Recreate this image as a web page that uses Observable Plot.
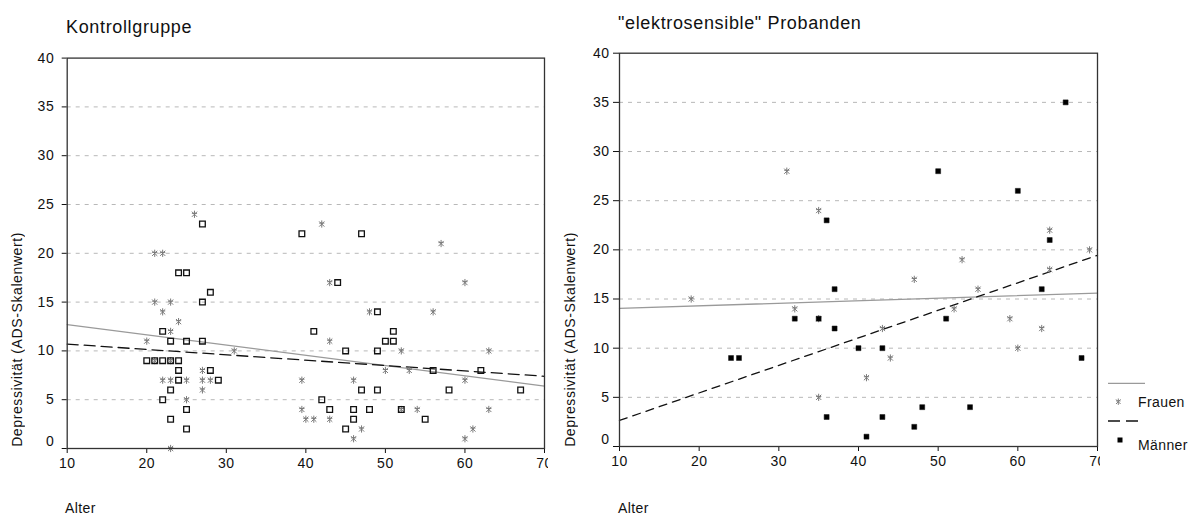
<!DOCTYPE html>
<html><head><meta charset="utf-8">
<script src="https://cdn.jsdelivr.net/npm/d3@7"></script>
<script src="https://cdn.jsdelivr.net/npm/@observablehq/plot@0.6"></script>
<style>
body{margin:0;background:#fff;}
#wrap{position:relative;width:1195px;height:516px;overflow:hidden;font-family:"Liberation Sans",Arial,sans-serif;color:#111;background:#fff;}
.abs{position:absolute;white-space:nowrap;}
.title{font-size:18px;letter-spacing:0.65px;line-height:18px;}
.lab{font-size:14px;letter-spacing:0.4px;line-height:14px;}
.ylab{font-size:14px;letter-spacing:0.6px;line-height:14px;writing-mode:vertical-rl;transform:rotate(180deg);width:14px;}
</style></head><body><div id="wrap"></div>
<script>
// ---- data ----
const xTicks = [10, 20, 30, 40, 50, 60, 70];
const yTicks = [0, 5, 10, 15, 20, 25, 30, 35, 40];
const gridValues = [5, 10, 15, 20, 25, 30, 35];

const titles = ["Kontrollgruppe", "\"elektrosensible\" Probanden"];
const xLabel = "Alter";
const yLabel = "Depressivität (ADS-Skalenwert)";
const legendLabels = ["Frauen", "Männer"];

// [Alter, ADS-Skalenwert]
const kontrollFrauen = [[26,24],[21,20],[22,20],[21,15],[23,15],[22,14],[24,13],[23,12],[20,11],[31,10],[21,9],[23,9],[27,8],[22,7],[23,7],[25,7],[27,7],[28,7],[27,6],[25,5],[23,0],[39.5,7],[39.5,4],[40,3],[41,3],[42,23],[57,21],[43,17],[60,17],[48,14],[56,14],[43,11],[52,10],[63,10],[50,8],[53,8],[46,7],[60,7],[43,3],[54,4],[63,4],[52,4],[47,2],[61,2],[46,1],[60,1]];
const kontrollMaenner = [[27,23],[39.5,22],[24,18],[25,18],[28,16],[27,15],[22,12],[23,11],[25,11],[27,11],[20,9],[21,9],[22,9],[23,9],[24,9],[24,8],[28,8],[24,7],[29,7],[23,6],[22,5],[25,4],[23,3],[25,2],[41,12],[42,5],[43,4],[47,22],[44,17],[49,14],[51,12],[50,11],[51,11],[45,10],[49,10],[56,8],[62,8],[47,6],[49,6],[58,6],[67,6],[46,4],[48,4],[52,4],[46,3],[55,3],[45,2]];
const elektroFrauen = [[19,15],[31,28],[35,24],[64,22],[69,20],[53,19],[64,18],[47,17],[55,16],[32,14],[35,13],[52,14],[59,13],[63,12],[43,12],[60,10],[44,9],[41,7],[35,5]];
const elektroMaenner = [[66,35],[50,28],[60,26],[36,23],[64,21],[37,16],[63,16],[32,13],[35,13],[51,13],[37,12],[40,10],[43,10],[24,9],[25,9],[68,9],[48,4],[54,4],[36,3],[43,3],[47,2],[41,1]];

// fitted lines (read at Alter 10 and 70)
const fitAlter = [10, 70];
const kontrollFitFrauen = [12.7, 6.4];
const kontrollFitMaenner = [10.7, 7.4];
const elektroFitFrauen = [14.05, 15.6];
const elektroFitMaenner = [2.65, 19.45];

// ---- drawing ----
const FONT = "'Liberation Sans', Arial, sans-serif";
const wrap = document.getElementById("wrap");

// star marker: vertical bar, X and short horizontal bars
const starSymbol = {
  draw(ctx, size) {
    const r = Math.sqrt(size / Math.PI);
    const h = r * 0.72;
    ctx.moveTo(0, -r); ctx.lineTo(0, r);
    ctx.moveTo(-h, -h); ctx.lineTo(h, h);
    ctx.moveTo(-h, h); ctx.lineTo(h, -h);
    ctx.moveTo(-h, -h * 0.35); ctx.lineTo(h, -h * 0.35);
  }
};

function panel(o) {
  const fitF = fitAlter.map((a, i) => ({a, v: o.fitF[i]}));
  const fitM = fitAlter.map((a, i) => ({a, v: o.fitM[i]}));
  const svg = Plot.plot({
    width: 548, height: 480,
    marginLeft: o.ml, marginRight: o.mr, marginTop: o.mt, marginBottom: o.mb,
    x: {domain: [10, 70], axis: null},
    y: {domain: [0, 40], axis: null},
    style: {fontFamily: FONT, fontSize: "14px", letterSpacing: "0.5px", color: "#111", background: "white", overflow: "hidden"},
    marks: [
      Plot.gridY(gridValues, {stroke: "#b8b8b8", strokeOpacity: 1, strokeDasharray: "4,5"}),
      Plot.axisX(xTicks, {tickSize: 5, tickPadding: 5, label: null}),
      Plot.axisY(yTicks, {tickSize: o.ts, tickPadding: o.tp, label: null, tickFormat: d => d === 0 ? "" : d}),
      Plot.axisY([0], {tickSize: o.ts, tickPadding: o.tp, label: null, dy: -7, stroke: "none"}),
      Plot.line(fitF, {x: "a", y: "v", stroke: "#9a9a9a", strokeWidth: 1.3}),
      Plot.line(fitM, {x: "a", y: "v", stroke: "#111", strokeWidth: 1.3, strokeDasharray: o.dash}),
      Plot.dot(o.frauen, {x: d => d[0], y: d => d[1], symbol: starSymbol, r: 3.6, stroke: "#7a7a7a", fill: "none", strokeWidth: 1}),
      Plot.dot(o.maenner, {x: d => d[0], y: d => d[1], symbol: "square", r: o.sr, stroke: "#111", fill: o.fill, strokeWidth: o.fill === "none" ? 1.3 : 0.5}),
      Plot.frame({stroke: "#333", strokeWidth: 1.3})
    ]
  });
  svg.style.position = "absolute";
  svg.style.left = o.left + "px";
  svg.style.top = "0px";
  wrap.appendChild(svg);
}

panel({left: 0, ml: 66.7, mr: 4, mt: 57.6, mb: 32, ts: 5, tp: 8,
  frauen: kontrollFrauen, maenner: kontrollMaenner, fill: "none", sr: 3.2,
  fitF: kontrollFitFrauen, fitM: kontrollFitMaenner, dash: "11,6"});
panel({left: 552, ml: 67, mr: 3, mt: 52.7, mb: 34, ts: 6, tp: 4,
  frauen: elektroFrauen, maenner: elektroMaenner, fill: "#000", sr: 2.8,
  fitF: elektroFitFrauen, fitM: elektroFitMaenner, dash: "8,6"});

function addDiv(cls, text, css) {
  const d = document.createElement("div");
  d.className = "abs " + cls;
  d.textContent = text;
  Object.assign(d.style, css);
  wrap.appendChild(d);
}
addDiv("title", titles[0], {left: "66px", top: "17.8px"});
addDiv("title", titles[1], {left: "618px", top: "13.8px"});
addDiv("lab", xLabel, {left: "65px", top: "500.8px"});
addDiv("lab", xLabel, {left: "618px", top: "500.8px"});
addDiv("ylab", yLabel, {left: "10px", bottom: "69px"});
addDiv("ylab", yLabel, {left: "563px", bottom: "69px"});

// legend
const ns = "http://www.w3.org/2000/svg";
const lg = document.createElementNS(ns, "svg");
lg.setAttribute("width", 95); lg.setAttribute("height", 90);
Object.assign(lg.style, {position: "absolute", left: "1100px", top: "370px", fontFamily: FONT});
const starPath = d3.symbol(starSymbol, Math.PI * 3.2 * 3.2)();
lg.innerHTML =
  `<line x1="8" x2="45" y1="13.3" y2="13.3" stroke="#9a9a9a" stroke-width="1.3"/>` +
  `<path d="${starPath}" transform="translate(18.3,31.7)" fill="none" stroke="#808080" stroke-width="1"/>` +
  `<text x="38" y="36.7" font-size="14" letter-spacing="0.4" fill="#111">${legendLabels[0]}</text>` +
  `<line x1="8" x2="40" y1="51" y2="51" stroke="#111" stroke-width="1.3" stroke-dasharray="12,6"/>` +
  `<rect x="17.5" y="67.5" width="5" height="5" fill="#000"/>` +
  `<text x="38" y="80" font-size="14" letter-spacing="0.4" fill="#111">${legendLabels[1]}</text>`;
wrap.appendChild(lg);
</script>
</body></html>
